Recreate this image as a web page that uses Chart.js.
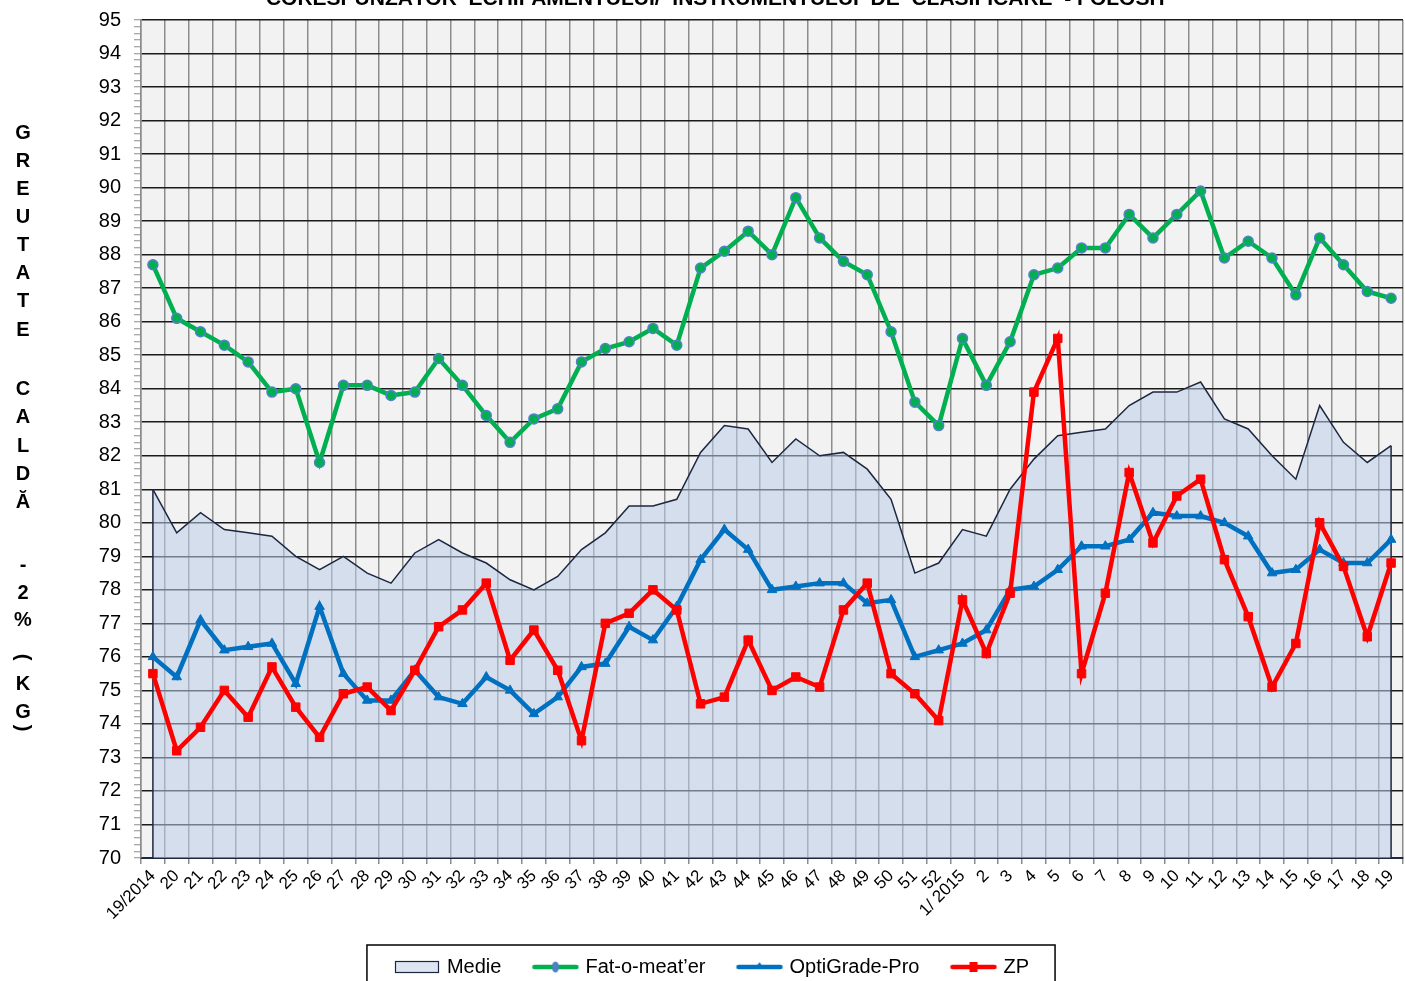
<!DOCTYPE html>
<html>
<head>
<meta charset="utf-8">
<script src="https://cdn.jsdelivr.net/npm/chart.js@4.4.1/dist/chart.umd.min.js"></script>
<style>
html, body { margin: 0; padding: 0; background: #fff; overflow: hidden; }
</style>
</head>
<body>
<canvas id="mycanvas" width="1410" height="987"></canvas>
<script>
// weekly hot carcass weight (-2%) per grading device, weeks 19/2014 .. 19/2015

var weeks = ['19/2014', '20', '21', '22', '23', '24', '25', '26', '27', '28', '29', '30', '31', '32', '33', '34', '35', '36',
	'37', '38', '39', '40', '41', '42', '43', '44', '45', '46', '47', '48', '49', '50', '51', '52',
	'1/ 2015', '2', '3', '4', '5', '6', '7', '8', '9', '10', '11', '12', '13', '14', '15', '16', '17', '18', '19'];

var medie = [81.0, 79.7, 80.3, 79.8, 79.7, 79.6, 79.0, 78.6, 79.0, 78.5, 78.2, 79.1, 79.5, 79.1, 78.8, 78.3, 78.0, 78.4,
	79.2, 79.7, 80.5, 80.5, 80.7, 82.1, 82.9, 82.8, 81.8, 82.5, 82.0, 82.1, 81.6, 80.7, 78.5, 78.8,
	79.8, 79.6, 81.0, 81.9, 82.6, 82.7, 82.8, 83.5, 83.9, 83.9, 84.2, 83.1, 82.8, 82.0, 81.3, 83.5, 82.4, 81.8, 82.3];

var fatOMeater = [87.7, 86.1, 85.7, 85.3, 84.8, 83.9, 84.0, 81.8, 84.1, 84.1, 83.8, 83.9, 84.9, 84.1, 83.2, 82.4, 83.1, 83.4,
	84.8, 85.2, 85.4, 85.8, 85.3, 87.6, 88.1, 88.7, 88.0, 89.7, 88.5, 87.8, 87.4, 85.7, 83.6, 82.9,
	85.5, 84.1, 85.4, 87.4, 87.6, 88.2, 88.2, 89.2, 88.5, 89.2, 89.9, 87.9, 88.4, 87.9, 86.8, 88.5, 87.7, 86.9, 86.7];

var optiGrade = [76.0, 75.4, 77.1, 76.2, 76.3, 76.4, 75.2, 77.5, 75.5, 74.7, 74.7, 75.6, 74.8, 74.6, 75.4, 75.0, 74.3, 74.8,
	75.7, 75.8, 76.9, 76.5, 77.5, 78.9, 79.8, 79.2, 78.0, 78.1, 78.2, 78.2, 77.6, 77.7, 76.0, 76.2,
	76.4, 76.8, 78.0, 78.1, 78.6, 79.3, 79.3, 79.5, 80.3, 80.2, 80.2, 80.0, 79.6, 78.5, 78.6, 79.2, 78.8, 78.8, 79.5];

var zp = [75.5, 73.2, 73.9, 75.0, 74.2, 75.7, 74.5, 73.6, 74.9, 75.1, 74.4, 75.6, 76.9, 77.4, 78.2, 75.9, 76.8, 75.6,
	73.5, 77.0, 77.3, 78.0, 77.4, 74.6, 74.8, 76.5, 75.0, 75.4, 75.1, 77.4, 78.2, 75.5, 74.9, 74.1,
	77.7, 76.1, 77.9, 83.9, 85.5, 75.5, 77.9, 81.5, 79.4, 80.8, 81.3, 78.9, 77.2, 75.1, 76.4, 80.0, 78.7, 76.6, 78.8];

var yMin = 70;
var yMax = 95;

var chartTitle = 'CORESPUNZĂTOR  ECHIPAMENTULUI/  INSTRUMENTULUI  DE  CLASIFICARE  - FOLOSIT';

var FONT = '"Liberation Sans", Arial, sans-serif';

function isMajor(v) {
	return Math.abs(v - Math.round(v)) < 1e-6;
}

// small pictures for the legend (line + marker like in excel)
function makeIcon(kind, color) {
	var c = document.createElement('canvas');
	c.width = 50;
	c.height = 16;
	var g = c.getContext('2d');
	if (kind === 'box') {
		g.fillStyle = '#dce5f1';
		g.fillRect(3.5, 2.5, 43, 11);
		g.strokeStyle = '#1c2841';
		g.lineWidth = 1.2;
		g.strokeRect(3.5, 2.5, 43, 11);
		return c;
	}
	g.strokeStyle = color;
	g.lineWidth = 4.5;
	g.lineCap = 'round';
	g.beginPath();
	g.moveTo(4, 8);
	g.lineTo(46, 8);
	g.stroke();
	g.fillStyle = color;
	if (kind === 'circle') {
		g.beginPath();
		g.ellipse(25, 8, 3.5, 5.5, 0, 0, Math.PI * 2);
		g.fillStyle = '#4f7fc4';
		g.fill();
	} else if (kind === 'triangle') {
		g.beginPath();
		g.moveTo(25, 3);
		g.lineTo(29.5, 10);
		g.lineTo(20.5, 10);
		g.closePath();
		g.fill();
	} else {
		g.fillRect(21, 3, 8, 10);
	}
	return c;
}

var legendIcons = [
	makeIcon('box'),
	makeIcon('circle', '#00b050'),
	makeIcon('triangle', '#0070c0'),
	makeIcon('rect', '#ff0000')
];

var plotBackground = {
	id: 'plotBackground',
	beforeDraw: function(chart) {
		var a = chart.chartArea;
		var ctx = chart.ctx;
		ctx.save();
		ctx.fillStyle = '#f2f2f2';
		ctx.fillRect(a.left, a.top, a.right - a.left, a.bottom - a.top);
		ctx.restore();
	}
};

// closing edges of the Medie area (first and last week)
var areaEdges = {
	id: 'areaEdges',
	afterDatasetDraw: function(chart, args) {
		if (args.index !== 0) return;
		var pts = args.meta.data;
		var bottom = chart.chartArea.bottom;
		var ctx = chart.ctx;
		ctx.save();
		ctx.strokeStyle = '#1c2841';
		ctx.lineWidth = 1.5;
		ctx.beginPath();
		ctx.moveTo(pts[0].x, pts[0].y);
		ctx.lineTo(pts[0].x, bottom);
		ctx.moveTo(pts[pts.length - 1].x, pts[pts.length - 1].y);
		ctx.lineTo(pts[pts.length - 1].x, bottom);
		ctx.stroke();
		ctx.restore();
	}
};

// move the legend a bit to the right, like the original
var legendShift = {
	id: 'legendShift',
	afterUpdate: function(chart) {
		var lg = chart.legend;
		lg.left += 8;
		lg.right += 8;
		if (lg.legendHitBoxes) {
			lg.legendHitBoxes.forEach(function(h) { h.left += 8; });
		}
	}
};

var extraText = {
	id: 'extraText',
	afterDraw: function(chart) {
		var ctx = chart.ctx;
		ctx.save();
		ctx.fillStyle = '#000';

		// title, cut at the top like in the original picture
		ctx.font = 'bold 21px ' + FONT;
		ctx.textAlign = 'center';
		ctx.textBaseline = 'alphabetic';
		ctx.fillText(chartTitle, 717, 5);

		// vertical y axis title, one letter under the other
		var letters = [
			['G', 133], ['R', 161], ['E', 189], ['U', 217], ['T', 245], ['A', 273], ['T', 301], ['E', 330],
			['C', 389], ['A', 417], ['L', 446], ['D', 474], ['Ă', 502],
			['-', 565], ['2', 593], ['%', 620], ['(', 657], ['K', 684], ['G', 712], [')', 728]
		];
		ctx.font = 'bold 20px ' + FONT;
		ctx.textBaseline = 'middle';
		for (var i = 0; i < letters.length; i++) {
			var ch = letters[i][0];
			var y = letters[i][1];
			if (ch === '(' || ch === ')') {
				ctx.save();
				ctx.translate(23, y);
				ctx.rotate(Math.PI / 2);
				ctx.fillText(ch, 0, 0);
				ctx.restore();
			} else {
				ctx.fillText(ch, 23, y);
			}
		}

		// frame round the legend
		var lg = chart.legend;
		var hb = lg.legendHitBoxes;
		if (hb && hb.length) {
			var last = hb[hb.length - 1];
			var left = hb[0].left - 30;
			var right = last.left + last.width + 26;
			var top = hb[0].top + 10 - 22;
			ctx.strokeStyle = '#000';
			ctx.lineWidth = 1.5;
			ctx.strokeRect(left, top, right - left, 42);
		}
		ctx.restore();
	}
};

var ctx = document.getElementById('mycanvas');

var chartdata = {
	labels: weeks,
	datasets: [{
		label: 'Medie',
		data: medie,
		borderColor: '#1c2841',
		borderWidth: 1.5,
		backgroundColor: 'rgba(190,206,232,0.55)',
		fill: 'start',
		pointRadius: 0,
		order: 4
	}, {
		label: 'Fat-o-meat’er',
		data: fatOMeater,
		borderColor: '#00b050',
		borderWidth: 4.5,
		pointStyle: 'circle',
		pointRadius: 5,
		pointBackgroundColor: '#00b050',
		pointBorderColor: '#5580c8',
		pointBorderWidth: 1.5,
		order: 1
	}, {
		label: 'OptiGrade-Pro',
		data: optiGrade,
		borderColor: '#0070c0',
		borderWidth: 4.5,
		pointStyle: 'triangle',
		pointRadius: 5.5,
		pointBackgroundColor: '#0070c0',
		pointBorderColor: '#0070c0',
		pointBorderWidth: 1,
		order: 3
	}, {
		label: 'ZP',
		data: zp,
		borderColor: '#ff0000',
		borderWidth: 4.5,
		pointStyle: 'rect',
		pointRadius: 6,
		pointBackgroundColor: '#ff0000',
		pointBorderColor: '#ff0000',
		pointBorderWidth: 1,
		order: 2
	}]
};

var lineChart = new Chart(ctx, {
	type: 'line',
	data: chartdata,
	plugins: [plotBackground, areaEdges, legendShift, extraText],
	options: {
		responsive: false,
		devicePixelRatio: 1,
		animation: false,
		layout: {
			padding: { top: 20, left: 0, right: 0, bottom: 0 }
		},
		elements: {
			line: { tension: 0 }
		},
		plugins: {
			title: { display: false },
			tooltip: { enabled: false },
			legend: {
				position: 'bottom',
				labels: {
					usePointStyle: true,
					pointStyleWidth: 40,
					boxHeight: 20,
					padding: 34,
					color: '#000',
					font: { family: FONT, size: 20 },
					generateLabels: function(chart) {
						return chart.data.datasets.map(function(ds, i) {
							return {
								text: ds.label,
								datasetIndex: i,
								pointStyle: legendIcons[i],
								fillStyle: 'rgba(0,0,0,0)',
								strokeStyle: 'rgba(0,0,0,0)',
								lineWidth: 0,
								hidden: false,
								fontColor: '#000'
							};
						});
					}
				}
			}
		},
		scales: {
			x: {
				offset: true,
				grid: {
					offset: true,
					color: '#8c8c8c',
					lineWidth: 1.5,
					tickColor: '#8c8c8c',
					tickLength: 6
				},
				border: { color: '#1c2841', width: 2 },
				ticks: {
					autoSkip: false,
					maxRotation: 45,
					minRotation: 45,
					padding: 2,
					color: '#000',
					font: { family: FONT, size: 17 }
				},
				afterFit: function(s) {
					s.height = 65;
					s.paddingLeft = 0;
					s.paddingRight = 0;
				}
			},
			y: {
				min: yMin,
				max: yMax,
				grid: {
					color: function(c) {
						return (c.tick && isMajor(c.tick.value)) ? '#1a1a1a' : 'rgba(0,0,0,0)';
					},
					lineWidth: 1.5,
					tickColor: '#8c8c8c',
					tickWidth: 1,
					tickLength: 7
				},
				border: { color: '#8c8c8c', width: 1.5 },
				ticks: {
					stepSize: 0.2,
					autoSkip: false,
					padding: 13,
					color: '#000',
					font: { family: FONT, size: 20 },
					callback: function(v) {
						return isMajor(v) ? String(Math.round(v)) : '';
					}
				},
				afterFit: function(s) {
					s.width = 141;
					s.paddingTop = 0;
					s.paddingBottom = 0;
				}
			}
		}
	}
});
</script>
</body>
</html>
